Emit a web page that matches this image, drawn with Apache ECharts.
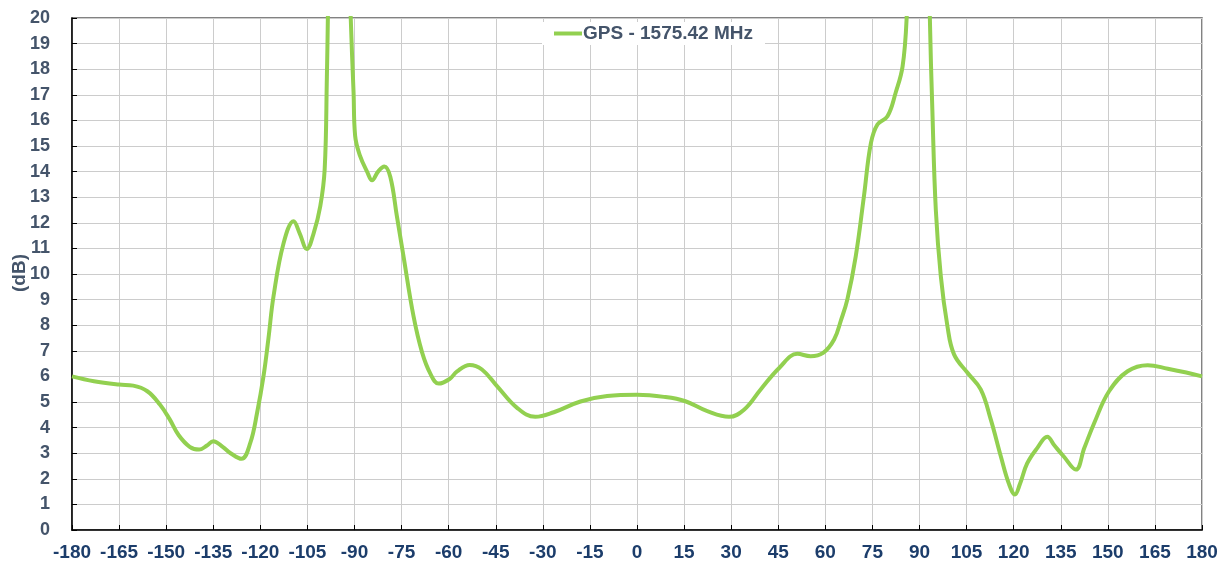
<!DOCTYPE html>
<html>
<head>
<meta charset="utf-8">
<script src="https://cdn.jsdelivr.net/npm/echarts@6/dist/echarts.min.js"></script>
<style>
html,body{margin:0;padding:0;background:#fff;}
#chart{width:1225px;height:567px;}
</style>
</head>
<body>
<div id="chart"></div>
<script>
// angle (deg) and gain (dB)
var angles = [-180,-173,-165,-160.5,-156,-152,-149,-146,-142.5,-139.5,-137,-135,-132,-129.6,-126,-123.2,-121,-119,-117.4,-115.8,
  -112.6,-109.4,-107.5,-105.2,-103,-100.9,-99.5,-98.8,-97.8,-95,-92.5,-91.2,-90.3,-89.8,-88.2,-86,-84.4,-82.5,-80.5,-78.6,
  -76.5,-74.4,-71.2,-68.5,-65.8,-63.2,-59.7,-57.3,-53.3,-49.4,-44.6,-38.2,-32.4,-26.5,-18,-9.5,0,8.6,15.4,
  22.4,29.3,34.1,39.4,45.3,51.1,55.3,59.3,62.8,65,67,69.7,72.3,74.5,76.6,79.8,82.4,84.6,85.9,87.5,
  90,92.5,93.3,94.1,95.2,96.8,98.9,101,105.3,109.5,112.7,115.9,118.5,120.4,122,124.3,127.5,130.7,133,135.9,
  139.8,142.5,145.7,150.4,156.3,162.7,169.1,175,180];
var gains = [6.0,5.81,5.68,5.64,5.42,4.9,4.35,3.7,3.25,3.14,3.3,3.47,3.25,3.01,2.78,3.4,4.6,6.0,7.5,9.13,
  11.2,12.06,11.6,10.98,11.6,12.65,14.1,17.7,24,32,26,20,17.1,15.4,14.6,14.0,13.66,14.0,14.2,13.8,
  12.26,10.7,8.35,6.95,6.1,5.72,5.9,6.2,6.45,6.27,5.62,4.77,4.42,4.6,5.02,5.23,5.28,5.2,5.03,
  4.64,4.42,4.7,5.49,6.33,6.88,6.79,6.92,7.44,8.2,9.0,10.7,13.04,15.1,15.84,16.16,17.08,18.1,20,26,
  32,26,20,16.4,12.5,9.9,7.96,6.86,6.14,5.49,4.32,2.88,1.8,1.39,1.8,2.6,3.2,3.64,3.3,2.88,
  2.36,3.2,4.19,5.42,6.2,6.44,6.3,6.15,6.0];
var seriesName = 'GPS - 1575.42 MHz';
var yTitle = '(dB)';

var points = angles.map(function(a, i){ return [a, gains[i]]; });

var chart = echarts.init(document.getElementById('chart'));
var option = {
  animation: false,
  textStyle: { fontFamily: 'Liberation Sans, Arial, sans-serif' },
  grid: {
    left: 72, right: 23, top: 18, bottom: 37,
    containLabel: false,
    outerBoundsMode: 'none',
    show: true, borderColor: '#595959', borderWidth: 1.5
  },
  legend: {
    data: [seriesName],
    left: 542, top: 22,
    backgroundColor: '#fff',
    padding: [2, 12, 2, 12],
    itemWidth: 28, itemHeight: 4, itemGap: 0,
    icon: 'rect',
    textStyle: { color: '#44546a', fontSize: 19, fontWeight: 'bold', padding: [0, 0, 0, -4] }
  },
  // rotated y axis title
  graphic: [{
    type: 'text',
    x: 20, y: 273,
    rotation: Math.PI / 2,
    style: {
      text: yTitle, fill: '#44546a',
      font: 'bold 19px "Liberation Sans", Arial, sans-serif',
      align: 'center', verticalAlign: 'middle'
    }
  }],
  xAxis: {
    type: 'value', min: -180, max: 180, interval: 15,
    axisLine: { lineStyle: { color: '#000', width: 1.5 } },
    axisTick: { inside: true, length: 5, lineStyle: { color: '#000' } },
    axisLabel: { color: '#1c3d6b', fontSize: 19, fontWeight: 'bold', margin: 13 },
    splitLine: { lineStyle: { color: '#cccccc', width: 1 } }
  },
  yAxis: {
    type: 'value', min: 0, max: 20, interval: 1,
    axisLine: { show: true, onZero: false, lineStyle: { color: '#000', width: 1.5 } },
    axisTick: { show: true, inside: true, length: 5, lineStyle: { color: '#000' } },
    axisLabel: { color: '#44546a', fontSize: 18, fontWeight: 'bold', margin: 22 },
    splitLine: { lineStyle: { color: '#cccccc', width: 1 } }
  },
  series: [{
    name: seriesName,
    type: 'line',
    data: points,
    smooth: 0.4,
    symbol: 'none',
    clip: true,
    lineStyle: { color: '#92d050', width: 4 },
    itemStyle: { color: '#92d050' }
  }]
};
chart.setOption(option);
</script>
</body>
</html>
